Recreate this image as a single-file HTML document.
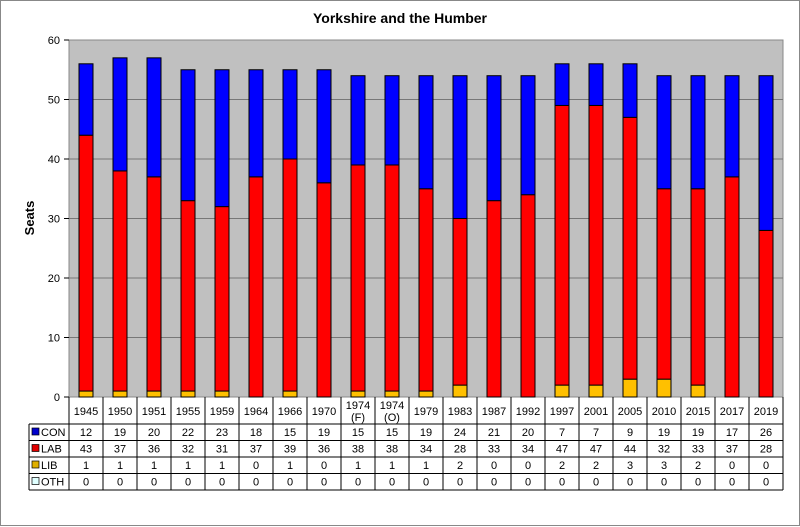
<!DOCTYPE html><html><head><style>body{margin:0;background:#fff}svg{display:block;font-family:"Liberation Sans",Arial,sans-serif}</style></head><body>
<svg width="800" height="527" xmlns="http://www.w3.org/2000/svg">
<rect x="0.5" y="0.5" width="799" height="525" fill="#fff" stroke="#888"/>
<text x="400" y="23" text-anchor="middle" font-size="14" font-weight="bold">Yorkshire and the Humber</text>
<rect x="69" y="40" width="714" height="357" fill="#c0c0c0" stroke="#888"/>
<g id="g"></g>
<text transform="translate(34,218) rotate(-90)" text-anchor="middle" font-size="13" font-weight="bold">Seats</text>
</svg>
<script>
const d=[["1945",12,43,1],["1950",19,37,1],["1951",20,36,1],["1955",22,32,1],["1959",23,31,1],["1964",18,37,0],["1966",15,39,1],["1970",19,36,0],["1974|(F)",15,38,1],["1974|(O)",15,38,1],["1979",19,34,1],["1983",24,28,2],["1987",21,33,0],["1992",20,34,0],["1997",7,47,2],["2001",7,47,2],["2005",9,44,3],["2010",19,32,3],["2015",19,33,2],["2017",17,37,0],["2019",26,28,0]];
const s=5.95,b=397,L=69,W=34;let h='';
for(let v=0;v<=60;v+=10){const y=b-v*s;if(v>0&&v<60)h+=`<line x1="69" x2="783" y1="${y}" y2="${y}" stroke="#777"/>`;h+=`<line x1="64" x2="69" y1="${y}" y2="${y}" stroke="#000"/><text x="60" y="${y+4}" text-anchor="end" font-size="11">${v}</text>`;}
d.forEach((r,i)=>{const cx=L+W*i+W/2,x=cx-7;let y=b;
[[r[3],'#ffc000'],[r[2],'#ff0000'],[r[1],'#0000ff']].forEach(([v,c])=>{if(v>0){h+=`<rect x="${x}" y="${y-v*s}" width="14" height="${v*s}" fill="${c}" stroke="#000" stroke-width="1"/>`;y-=v*s;}});
const p=r[0].split('|');if(p.length==1)h+=`<text x="${cx}" y="415" text-anchor="middle" font-size="11">${p[0]}</text>`;else h+=`<text x="${cx}" y="409" text-anchor="middle" font-size="11">${p[0]}</text><text x="${cx}" y="421" text-anchor="middle" font-size="11">${p[1]}</text>`;
[r[1],r[2],r[3],0].forEach((v,j)=>{h+=`<text x="${cx}" y="${436+j*16.5}" text-anchor="middle" font-size="11">${v}</text>`;});
h+=`<line x1="${L+W*(i+1)}" x2="${L+W*(i+1)}" y1="397" y2="490" stroke="#000"/>`;});
h+=`<line x1="69" x2="69" y1="397" y2="490" stroke="#000"/><line x1="29" x2="29" y1="424" y2="490" stroke="#000"/>`;
[424,440.5,457,473.5,490].forEach(y=>h+=`<line x1="29" x2="783" y1="${y}" y2="${y}" stroke="#000"/>`);
[['CON','#0000cc'],['LAB','#e00000'],['LIB','#e0b000'],['OTH','#e0ffff']].forEach(([n,c],j)=>{const y=428+j*16.5;h+=`<rect x="32" y="${y}" width="7" height="7" fill="${c}" stroke="#000" stroke-width="0.7"/><text x="41" y="${y+8}" font-size="11">${n}</text>`;});
document.getElementById('g').innerHTML=h;
</script></body></html>
